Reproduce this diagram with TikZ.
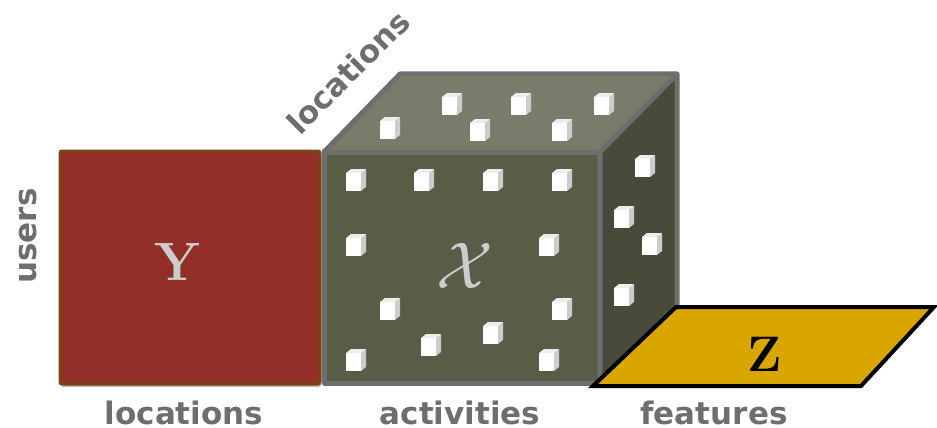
\documentclass[tikz,border=0pt]{standalone}
\usepackage{fontspec}
\newfontfamily\lblfont{DejaVu Sans}
\usetikzlibrary{shadows}

\definecolor{ybox}{HTML}{922F28}
\definecolor{yedge}{HTML}{7B4518}
\definecolor{xfront}{HTML}{595C47}
\definecolor{xtop}{HTML}{7A7C6B}
\definecolor{xside}{HTML}{484A3A}
\definecolor{xedge}{HTML}{6E6E6E}
\definecolor{zbox}{HTML}{D9A600}
\definecolor{lbl}{HTML}{6E6E6E}
\definecolor{glyph}{HTML}{CDCDCD}

\tikzset{
  axislabel/.style={text=lbl, font=\lblfont\bfseries\fontsize{31pt}{36pt}\selectfont, inner sep=0pt},
  face/.style={draw=xedge, line width=5pt, line join=round},
  softshadow/.style={drop shadow={shadow xshift=1pt, shadow yshift=-3pt, opacity=0.25, fill=black}},
  wcube/.pic={
    \fill[white] (0,0) rectangle (15,18);
    \fill[white!80!black] (15,0) -- (20,-4) -- (20,14) -- (15,18) -- cycle;
    \fill[white!93!black] (0,0) -- (5,-4) -- (20,-4) -- (15,0) -- cycle;
  }
}

\begin{document}
\begin{tikzpicture}[x=1pt, y=-1pt]
\useasboundingbox (0,0) rectangle (937,428);

% matrix Y
\draw[softshadow, fill=ybox, draw=yedge, line width=3pt, rounded corners=2pt]
  (60,151) rectangle (320,384);
\node[text=glyph, font=\bfseries\fontsize{54pt}{60pt}\selectfont, inner sep=0pt] (ylabel) at (177,262) {Y};

% tensor X: front, top and side faces
\draw[softshadow, face, fill=xfront] (324,152) rectangle (600,383);
\draw[face, fill=xtop] (324,152) -- (400,74) -- (677,74) -- (600,152) -- cycle;
\draw[face, fill=xside] (600,152) -- (677,74) -- (677,306) -- (600,383) -- cycle;

% entries on the front face
\foreach \p in {(346,173),(414,173),(483,173),(552,173),
                (346,238),(539,238),
                (380,302),(552,302),(483,326),(421,338),
                (346,353),(539,353)}
  \pic at \p {wcube};
% entries on the top face
\foreach \p in {(380,121),(442,97),(470,123),(511,97),(552,123),(594,97)}
  \pic at \p {wcube};
% entries on the side face
\foreach \p in {(635,159),(614,210),(642,237),(614,288)}
  \pic at \p {wcube};

\node[text=glyph, inner sep=0pt] (xlabel) at (465,266) {\scalebox{6.6}{$\mathcal{X}$}};

% matrix Z
\draw[fill=zbox, draw=black, line width=4pt] (676,307) -- (934,307) -- (861,386) -- (593,386) -- cycle;
\node[text=black, font=\bfseries\fontsize{50pt}{56pt}\selectfont, inner sep=0pt] (zlabel) at (765,354) {Z};

% axis labels
\node[axislabel, anchor=base] (locY) at (184,424) {locations};
\node[axislabel, anchor=base] (act) at (460,424) {activities};
\node[axislabel, anchor=base] (feat) at (714,424) {features};
\node[axislabel, anchor=base, rotate=90] (users) at (36,236) {users};
\node[axislabel, rotate=45] (locX) at (348,72) {locations};
\end{tikzpicture}
\end{document}
